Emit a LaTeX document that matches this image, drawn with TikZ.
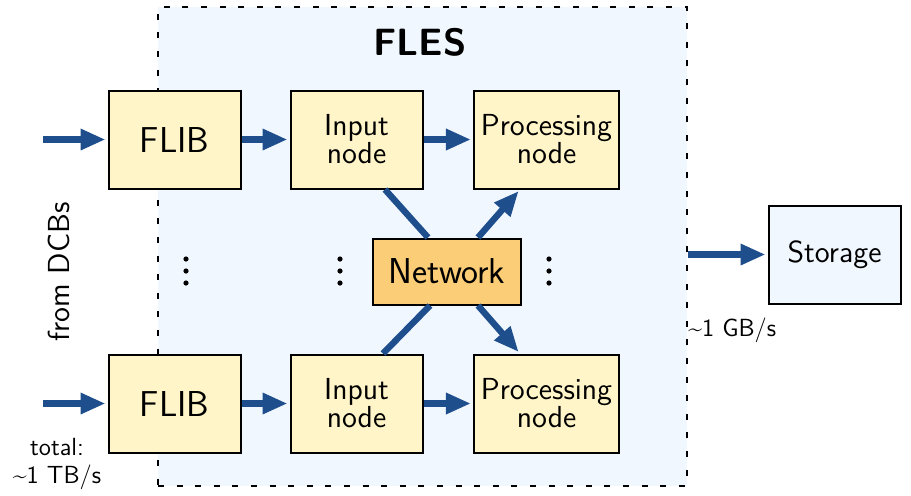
\documentclass[tikz,border=0pt]{standalone}
\usetikzlibrary{arrows.meta,calc}
\definecolor{arrblue}{RGB}{31,78,140}
\definecolor{boxyel}{RGB}{255,245,200}
\definecolor{netor}{RGB}{250,205,118}
\definecolor{flesbg}{RGB}{240,247,255}
\begin{document}
\begin{tikzpicture}[x=0.5pt,y=-0.5pt, font=\sffamily,
  box/.style={draw=black, line width=1pt, fill=boxyel, minimum width=66pt, minimum height=49pt, inner xsep=5pt, align=center},
  bigtxt/.style={font=\sffamily\fontsize{18}{20}\selectfont},
  medtxt/.style={font=\sffamily\fontsize{15.2}{14}\selectfont},
  smalltxt/.style={font=\sffamily\fontsize{12.4}{14}\selectfont},
  flow/.style={draw=arrblue, line width=3.2pt, -{Triangle[length=12.5pt,width=10pt]}, shorten >=1pt},
  link/.style={draw=arrblue, line width=3.2pt},
  dot/.style={circle, fill=black, inner sep=0pt, minimum size=2.6pt}
]
\useasboundingbox (0,0) rectangle (911,495);
% FLES region
\node[draw=black, line width=1pt, dash pattern=on 3pt off 6.3pt, fill=flesbg,
      minimum width=264.5pt, minimum height=239.5pt, inner sep=0pt] (fles) at (422.5,246.5) {};
\node[font=\sffamily\bfseries\fontsize{19}{22}\selectfont, anchor=base] (title) at (420,55) {FLES};

% boxes
\node[box, bigtxt] (flib1) at (174.5,139.5) {FLIB};
\node[box, bigtxt] (flib2) at (174.5,403.5) {FLIB};
\node[box, medtxt] (in1) at (356.5,139.5) {Input\\node};
\node[box, medtxt] (in2) at (356.5,403.5) {Input\\node};
\node[box, medtxt, inner xsep=3.5pt] (proc1) at (546.5,139.5) {Processing\\node};
\node[box, medtxt, inner xsep=3.5pt] (proc2) at (546.5,403.5) {Processing\\node};
\node[draw=black, line width=1pt, fill=netor, minimum width=74pt, minimum height=33pt, bigtxt] (net) at (447,271.5) {Network};
\node[draw=black, line width=1pt, fill=flesbg, minimum width=66pt, minimum height=49pt, medtxt] (stor) at (834.5,254.5) {Storage};

% dots
\foreach \x/\n in {186/a,340/b,549/c}{
  \node[dot] (d\n1) at (\x,259) {};
  \node[dot] (d\n2) at (\x,271) {};
  \node[dot] (d\n3) at (\x,283) {};
}

% inputs
\coordinate (src1) at (43,139.5);
\coordinate (src2) at (43,403.5);
\draw[flow] (src1) -- (flib1.west);
\draw[flow] (src2) -- (flib2.west);
\draw[flow] (flib1) -- (in1);
\draw[flow] (flib2) -- (in2);
\draw[flow] (in1) -- (proc1);
\draw[flow] (in2) -- (proc2);

% network
\draw[link] ($(in1.south)+(28.5,0)$) -- ($(net.north)+(-19,0)$);
\draw[flow] ($(net.north)+(31,0)$) -- ($(proc1.south)+(-26.5,0)$);
\draw[link] ($(in2.north)+(26.5,0)$) -- ($(net.south)+(-17,0)$);
\draw[flow] ($(net.south)+(31,0)$) -- ($(proc2.north)+(-26.5,0)$);

% output
\draw[flow] (fles.east |- stor.west) -- (stor.west);

% labels
\node[medtxt, rotate=90, anchor=base] (dcb) at (69.5,272) {from DCBs};
\node[smalltxt, align=center, anchor=base] (tot) at (57,483) {total:\\\textasciitilde 1 TB/s};
\node[smalltxt, anchor=base west, inner sep=0pt] (gb) at (688,336) {\textasciitilde 1 GB/s};
\end{tikzpicture}
\end{document}
